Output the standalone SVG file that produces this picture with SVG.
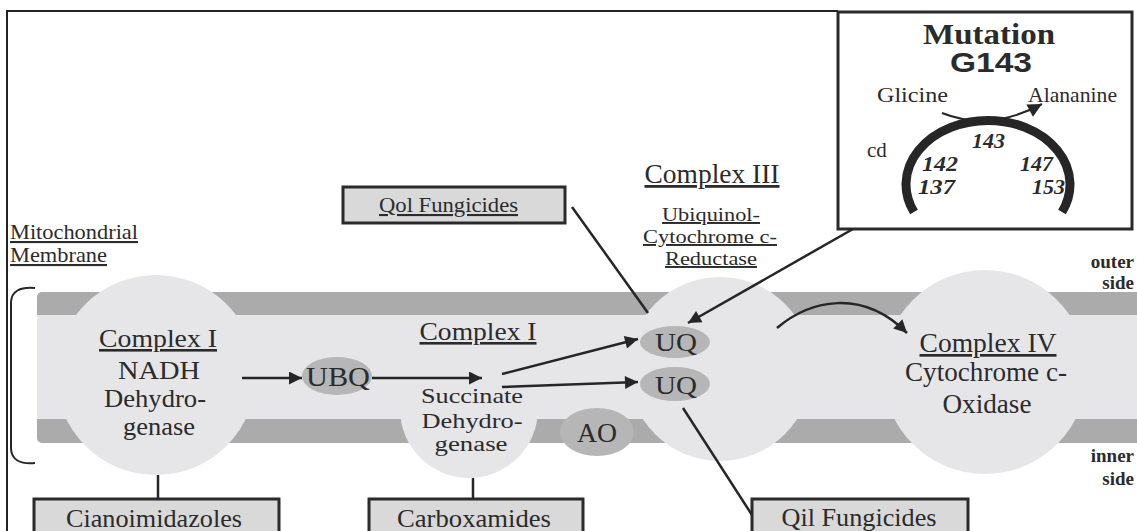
<svg xmlns="http://www.w3.org/2000/svg" width="1137" height="531" viewBox="0 0 1137 531">
<style>
.t{font-family:"Liberation Serif","Times New Roman",serif;fill:#2b2b2b;}
.s{font-family:"Liberation Sans",Arial,sans-serif;fill:#2b2b2b;font-weight:bold;}
.u{text-decoration:underline;}
.b{font-weight:bold;}
.i{font-style:italic;font-weight:bold;}
.ln{stroke:#262626;stroke-width:2.5;fill:none;}
.box{fill:#d9d9d9;stroke:#2a2a2a;stroke-width:3;}
.cpx{fill:#e6e6e9;}
.el{fill:#b6b6b6;}
.band{fill:#ababab;}
</style>
<defs>
<marker id="ah" viewBox="0 0 10 10" refX="10" refY="5" markerWidth="17" markerHeight="13" markerUnits="userSpaceOnUse" orient="auto">
<path d="M0,0 L10,5 L0,10 z" fill="#262626"/>
</marker>
<marker id="ahs" viewBox="0 0 10 10" refX="10" refY="5" markerWidth="16" markerHeight="14" markerUnits="userSpaceOnUse" orient="auto">
<path d="M0,0 L10,5 L0,10 z" fill="#262626"/>
</marker>
</defs>
<rect width="1137" height="531" fill="#ffffff"/>
<path d="M7,531 L7,11 L838,11" stroke="#222" stroke-width="2" fill="none"/>

<g id="membrane">
<rect x="37" y="292" width="1110" height="151" rx="5" class="band"/>
<rect x="37" y="315" width="1110" height="104" class="cpx"/>
<path d="M35,288 Q12,286 11,302 L11,449 Q12,465 35,463" stroke="#262626" stroke-width="2" fill="none"/>
</g>

<g id="complex1">
<circle cx="156" cy="375" r="100" class="cpx"/>
<text class="t u" x="158" y="347" font-size="26" text-anchor="middle" textLength="118" lengthAdjust="spacingAndGlyphs">Complex I</text>
<text class="t" x="159" y="379" font-size="26" text-anchor="middle" textLength="82" lengthAdjust="spacingAndGlyphs">NADH</text>
<text class="t" x="155" y="407" font-size="26" text-anchor="middle" textLength="102" lengthAdjust="spacingAndGlyphs">Dehydro-</text>
<text class="t" x="159" y="435" font-size="26" text-anchor="middle" textLength="72" lengthAdjust="spacingAndGlyphs">genase</text>
</g>

<g id="complex2">
<circle cx="469" cy="409" r="69" class="cpx"/>
<text class="t u" x="478" y="340" font-size="26" text-anchor="middle" textLength="117" lengthAdjust="spacingAndGlyphs">Complex I</text>
<text class="t" x="472" y="403" font-size="21" text-anchor="middle" textLength="102" lengthAdjust="spacingAndGlyphs">Succinate</text>
<text class="t" x="472" y="428" font-size="21" text-anchor="middle" textLength="101" lengthAdjust="spacingAndGlyphs">Dehydro-</text>
<text class="t" x="471" y="451" font-size="20" text-anchor="middle" textLength="73" lengthAdjust="spacingAndGlyphs">genase</text>
</g>

<g id="complex3">
<circle cx="720" cy="369" r="92" class="cpx"/>
<text class="t u" x="712" y="183" font-size="28" text-anchor="middle" textLength="135" lengthAdjust="spacingAndGlyphs">Complex III</text>
<text class="t u" x="711" y="221" font-size="19.5" text-anchor="middle" textLength="98" lengthAdjust="spacingAndGlyphs">Ubiquinol-</text>
<text class="t u" x="710" y="243" font-size="19.5" text-anchor="middle" textLength="134" lengthAdjust="spacingAndGlyphs">Cytochrome c-</text>
<text class="t u" x="711" y="265" font-size="19.5" text-anchor="middle" textLength="92" lengthAdjust="spacingAndGlyphs">Reductase</text>
</g>

<g id="complex4">
<circle cx="985" cy="372" r="102" class="cpx"/>
<text class="t u" x="988" y="352" font-size="27" text-anchor="middle" textLength="137" lengthAdjust="spacingAndGlyphs">Complex IV</text>
<text class="t" x="986" y="381" font-size="27" text-anchor="middle" textLength="162" lengthAdjust="spacingAndGlyphs">Cytochrome c-</text>
<text class="t" x="987" y="413" font-size="27" text-anchor="middle" textLength="89" lengthAdjust="spacingAndGlyphs">Oxidase</text>
</g>

<g id="ubq">
<ellipse cx="337" cy="376" rx="35" ry="19" class="el"/>
<text class="t" x="338" y="386" font-size="27" text-anchor="middle" textLength="64" lengthAdjust="spacingAndGlyphs">UBQ</text>
</g>
<g id="uq1">
<ellipse cx="675" cy="342" rx="35" ry="16" class="el"/>
<text class="t" x="676" y="351" font-size="26" text-anchor="middle" textLength="42" lengthAdjust="spacingAndGlyphs">UQ</text>
</g>
<g id="uq2">
<ellipse cx="675" cy="384" rx="35" ry="17" class="el"/>
<text class="t" x="676" y="394" font-size="26" text-anchor="middle" textLength="42" lengthAdjust="spacingAndGlyphs">UQ</text>
</g>
<g id="ao">
<ellipse cx="597" cy="432" rx="37" ry="24" class="el"/>
<text class="t" x="597" y="442" font-size="27" text-anchor="middle" textLength="40" lengthAdjust="spacingAndGlyphs">AO</text>
</g>

<g id="labels">
<text class="t u" x="10" y="239" font-size="21" textLength="128" lengthAdjust="spacingAndGlyphs">Mitochondrial</text>
<text class="t u" x="10" y="262" font-size="21" textLength="97" lengthAdjust="spacingAndGlyphs">Membrane</text>
<text class="t b" x="1134" y="268" font-size="19" text-anchor="end">outer</text>
<text class="t b" x="1134" y="289" font-size="19" text-anchor="end">side</text>
<text class="t b" x="1134" y="462" font-size="19" text-anchor="end">inner</text>
<text class="t b" x="1134" y="485" font-size="19" text-anchor="end">side</text>
</g>

<g id="qol">
<rect x="343" y="187" width="222" height="36" class="box"/>
<text class="t u" x="379" y="212" font-size="21" textLength="139" lengthAdjust="spacingAndGlyphs">Qol Fungicides</text>
</g>
<g id="cianoimidazoles">
<rect x="34" y="499" width="245" height="40" class="box"/>
<text class="t" x="154" y="527" font-size="25" text-anchor="middle" textLength="176" lengthAdjust="spacingAndGlyphs">Cianoimidazoles</text>
</g>
<g id="carboxamides">
<rect x="369" y="499" width="214" height="40" class="box"/>
<text class="t" x="474" y="527" font-size="25" text-anchor="middle" textLength="154" lengthAdjust="spacingAndGlyphs">Carboxamides</text>
</g>
<g id="qil">
<rect x="752" y="499" width="216" height="40" class="box"/>
<text class="t" x="859" y="526" font-size="25" text-anchor="middle" textLength="155" lengthAdjust="spacingAndGlyphs">Qil Fungicides</text>
</g>

<g id="mutation">
<rect x="838" y="12" width="294" height="217" fill="#ffffff" stroke="#2a2a2a" stroke-width="3"/>
<text class="t b" x="989" y="44" font-size="29" text-anchor="middle" textLength="132" lengthAdjust="spacingAndGlyphs">Mutation</text>
<text class="s" x="991" y="72" font-size="27" text-anchor="middle" textLength="82" lengthAdjust="spacingAndGlyphs">G143</text>
<text class="t" x="877" y="102" font-size="21" textLength="71" lengthAdjust="spacingAndGlyphs">Glicine</text>
<text class="t" x="1028" y="102" font-size="21" textLength="89" lengthAdjust="spacingAndGlyphs">Alananine</text>
<path d="M914,212 A82,64 0 1 1 1062,212" stroke="#262626" stroke-width="9" fill="none"/>
<path d="M942,113 Q990,132 1042,104" stroke="#262626" stroke-width="2" fill="none" marker-end="url(#ahs)"/>
<text class="t" x="867" y="157" font-size="21">cd</text>
<text class="t i" x="972" y="148" font-size="21" textLength="33" lengthAdjust="spacingAndGlyphs">143</text>
<text class="t i" x="922" y="171" font-size="20" textLength="36" lengthAdjust="spacingAndGlyphs">142</text>
<text class="t i" x="918" y="194" font-size="20" textLength="37" lengthAdjust="spacingAndGlyphs">137</text>
<text class="t i" x="1020" y="171" font-size="20" textLength="33" lengthAdjust="spacingAndGlyphs">147</text>
<text class="t i" x="1032" y="194" font-size="20" textLength="33" lengthAdjust="spacingAndGlyphs">153</text>
</g>

<g id="connectors">
<line x1="242" y1="378" x2="302" y2="378" class="ln" marker-end="url(#ah)"/>
<line x1="372" y1="378" x2="482" y2="378" class="ln" marker-end="url(#ah)"/>
<line x1="502" y1="374" x2="638" y2="339" class="ln" marker-end="url(#ah)"/>
<line x1="502" y1="387" x2="638" y2="382" class="ln" marker-end="url(#ah)"/>
<path d="M777,328 C810,300 862,288 907,333" class="ln" marker-end="url(#ah)"/>
<line x1="853" y1="229" x2="688" y2="323" class="ln" marker-end="url(#ah)"/>
<line x1="572" y1="207" x2="648" y2="313" class="ln"/>
<line x1="683" y1="408" x2="752" y2="515" class="ln"/>
<line x1="158" y1="475" x2="158" y2="499" class="ln"/>
<line x1="473" y1="478" x2="473" y2="499" class="ln"/>
</g>
</svg>
